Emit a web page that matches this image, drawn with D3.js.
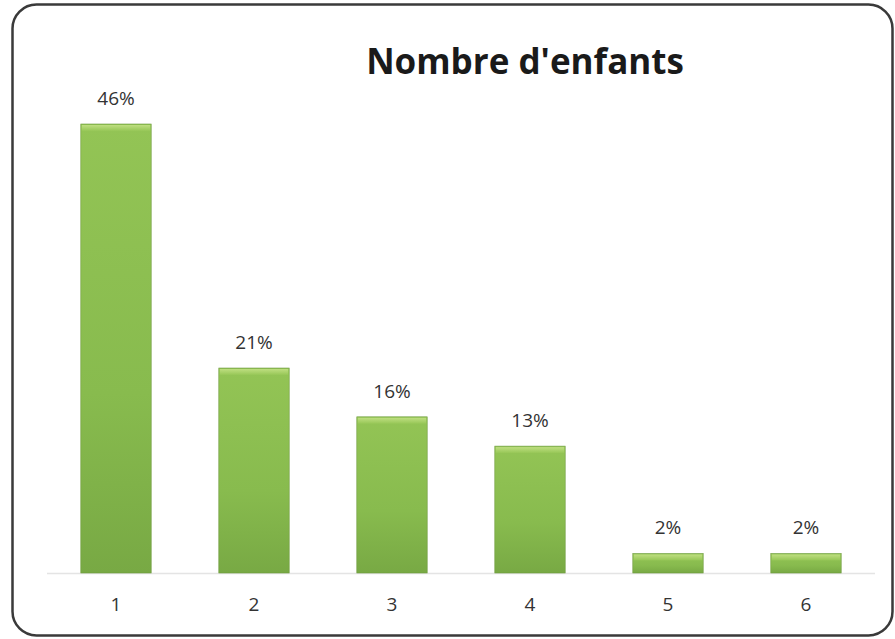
<!DOCTYPE html>
<html><head><meta charset="utf-8">
<script src="https://cdn.jsdelivr.net/npm/d3@7"></script>
<style>body{margin:0;background:#fff}svg{display:block}</style>
</head><body>
<script>
const categories = ["1","2","3","4","5","6"];
const values = [46, 21, 16, 13, 2, 2];
const valueLabels = ["46%","21%","16%","13%","2%","2%"];
const title = "Nombre d'enfants";

const W = 895, H = 639;
const svg = d3.select("body").append("svg").attr("width", W).attr("height", H);
const defs = svg.append("defs");
const g1 = defs.append("linearGradient").attr("id","barg").attr("x1",0).attr("x2",0).attr("y1",0).attr("y2",1);
g1.append("stop").attr("offset","0%").attr("stop-color","#93c455");
g1.append("stop").attr("offset","60%").attr("stop-color","#88bb4e");
g1.append("stop").attr("offset","100%").attr("stop-color","#78a944");
const g2 = defs.append("linearGradient").attr("id","bevel").attr("x1",0).attr("x2",0).attr("y1",0).attr("y2",1);
g2.append("stop").attr("offset","0%").attr("stop-color","#c6e388");
g2.append("stop").attr("offset","100%").attr("stop-color","#97c757");

// frame
svg.append("rect").attr("x",12.5).attr("y",4.5).attr("width",880).attr("height",631)
  .attr("rx",24).attr("fill","#fff").attr("stroke","#3a3a3a").attr("stroke-width",2.5);

const baseY = 573;
const x = d3.scaleBand().domain(categories).range([47, 875]).paddingInner(0.49).paddingOuter(0.245);
const y = d3.scaleLinear().domain([0, 46]).range([baseY, 124]);

// baseline
svg.append("line").attr("x1",47).attr("x2",875).attr("y1",baseY+0.5).attr("y2",baseY+0.5)
  .attr("stroke","#e4e4e4").attr("stroke-width",1.5);

const bars = svg.append("g").selectAll("g").data(values).join("g");
bars.append("rect")
  .attr("x",(d,i)=>x(categories[i])).attr("y",d=>y(d))
  .attr("width",x.bandwidth()).attr("height",d=>baseY-y(d))
  .attr("fill","url(#barg)").attr("stroke","#6d9a3c").attr("stroke-width",0.6);
bars.append("rect")
  .attr("x",(d,i)=>x(categories[i])+1).attr("y",d=>y(d)+1)
  .attr("width",x.bandwidth()-2).attr("height",d=>Math.min(6,(baseY-y(d))/3))
  .attr("fill","url(#bevel)").attr("opacity",0.85);

svg.append("g").selectAll("text").data(values).join("text")
  .attr("x",(d,i)=>x(categories[i])+x.bandwidth()/2).attr("y",d=>y(d)-19)
  .attr("text-anchor","middle").attr("font-family","'Open Sans', 'Noto Sans', sans-serif")
  .attr("font-size",19).attr("fill","#333")
  .text((d,i)=>valueLabels[i]);

const xAxis = svg.append("g").attr("transform",`translate(0,${baseY})`)
  .call(d3.axisBottom(x).tickSize(0).tickPadding(25));
xAxis.select(".domain").remove();
xAxis.selectAll("text").attr("font-family","'Open Sans', 'Noto Sans', sans-serif")
  .attr("font-size",19).attr("fill","#333");

svg.append("text").attr("x",525).attr("y",74).attr("text-anchor","middle")
  .attr("font-family","'Open Sans', 'Noto Sans', sans-serif").attr("font-weight","bold")
  .attr("font-size",35).attr("fill","#1a1a1a").text(title);
</script>
</body></html>
